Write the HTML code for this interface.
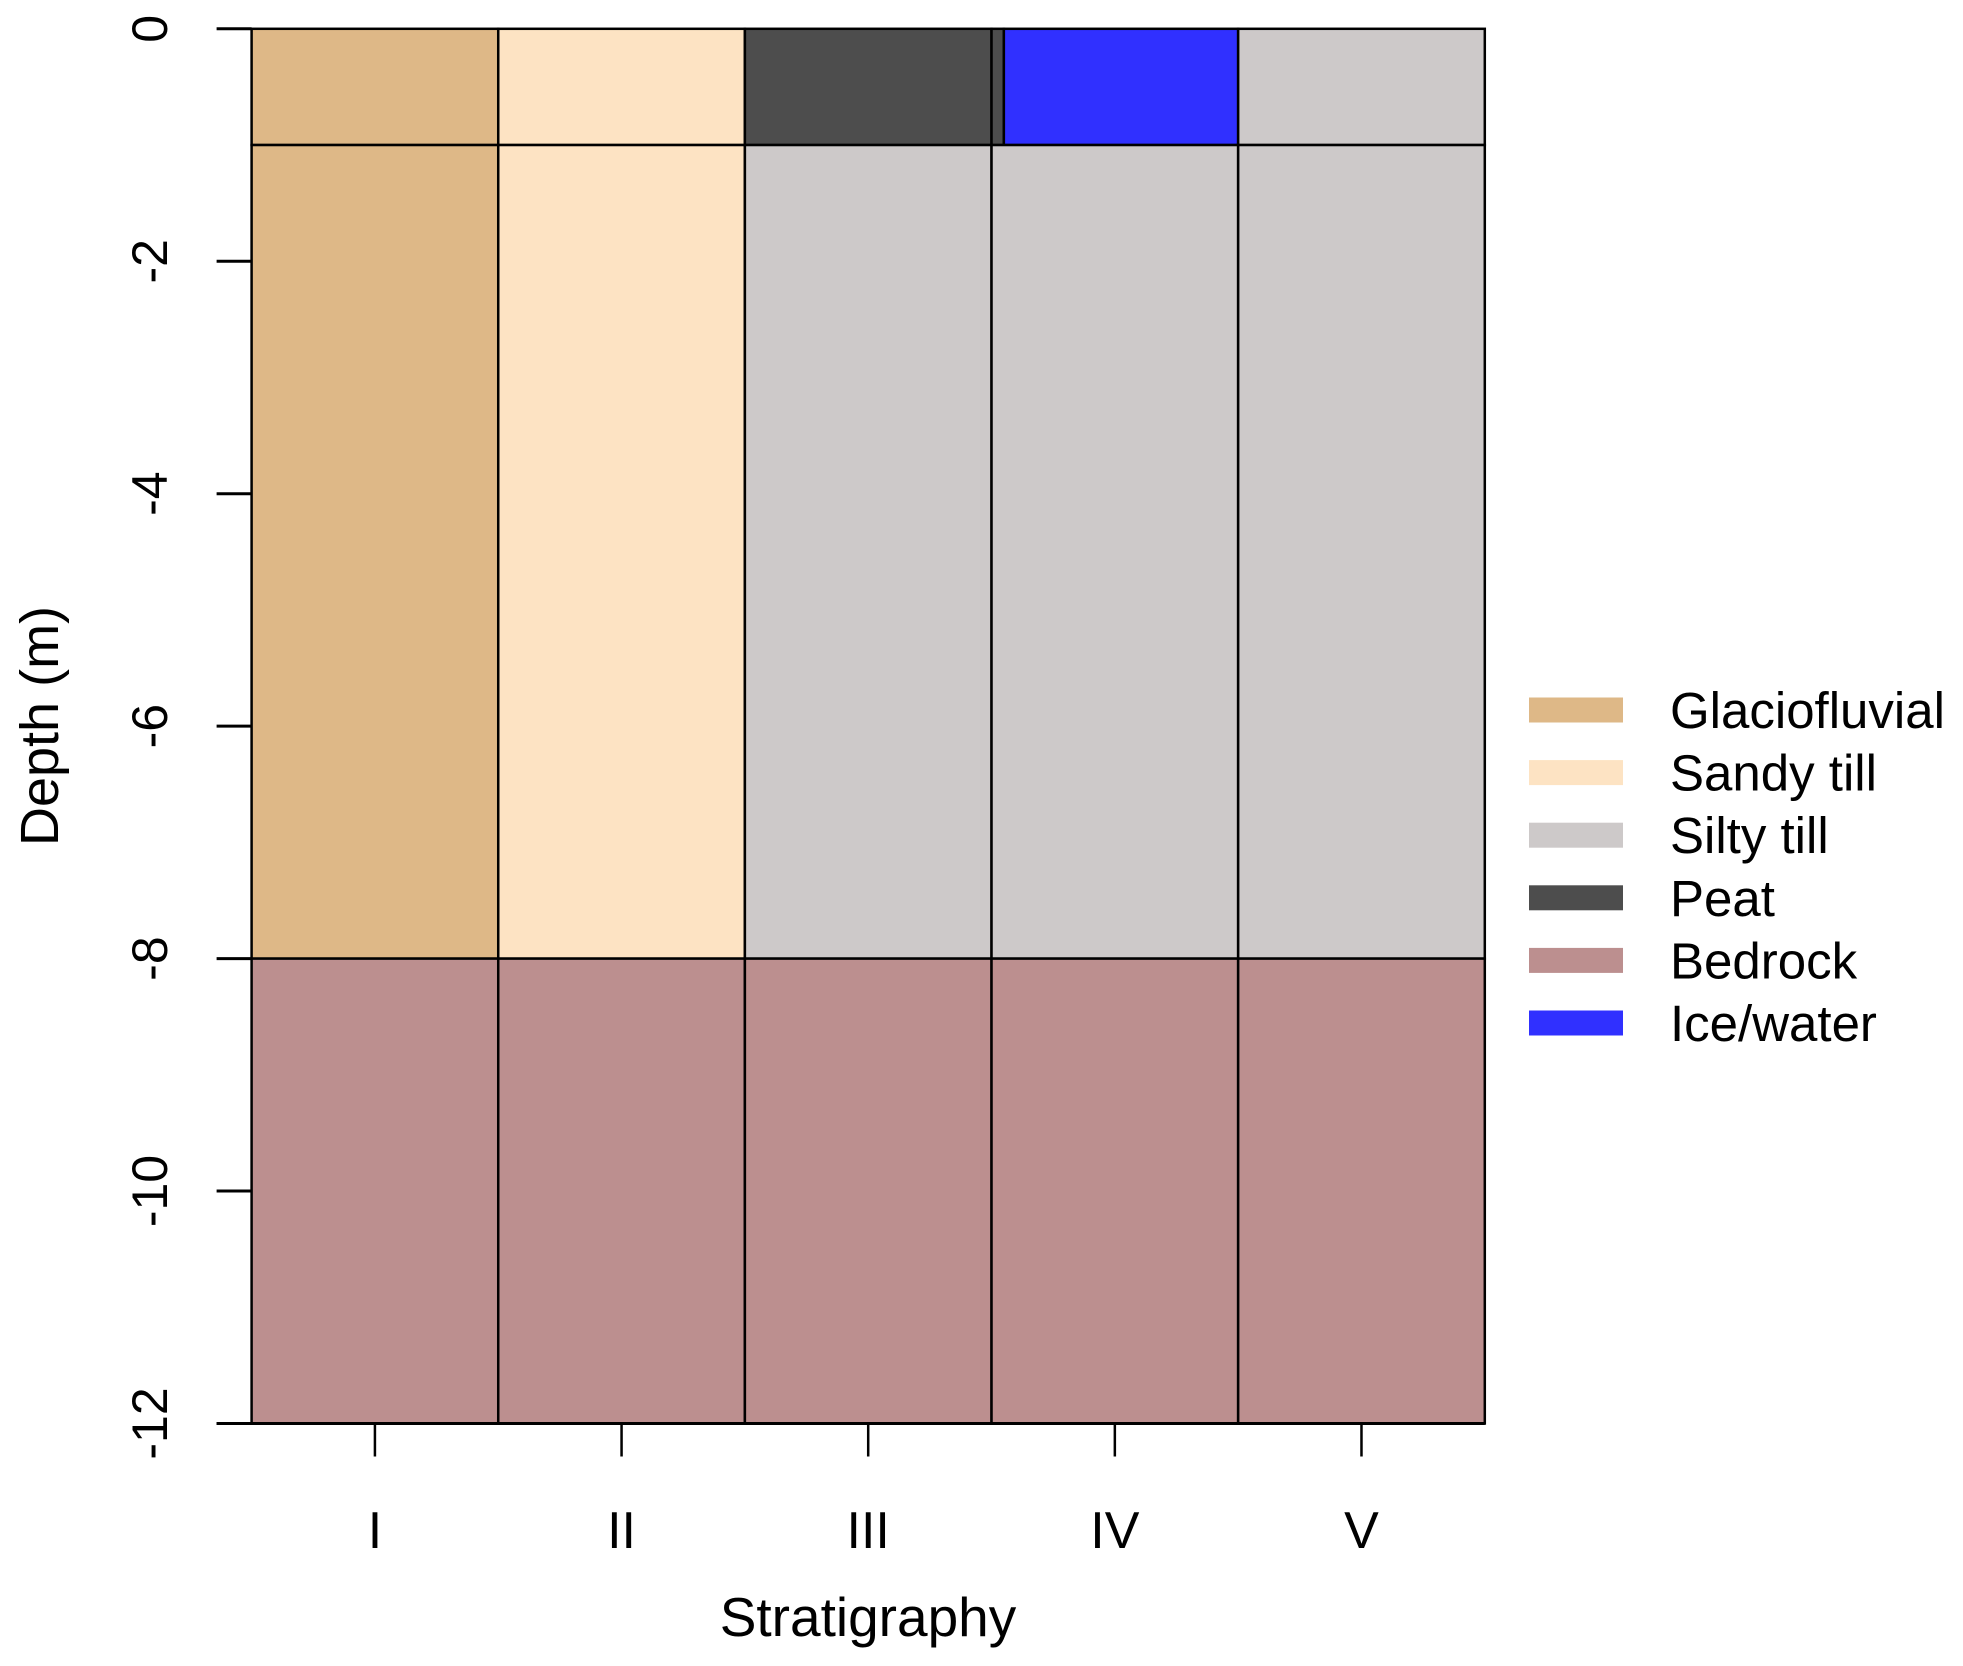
<!DOCTYPE html>
<html><head><meta charset="utf-8"><style>
html,body{margin:0;padding:0;background:#fff;}
svg{display:block;font-family:"Liberation Sans",Arial,sans-serif;}
</style></head><body>
<svg id="chart" width="1963" height="1666" viewBox="0 0 1963 1666" xmlns="http://www.w3.org/2000/svg">
<g id="layers"></g>
<g id="axes"></g>
<g id="legend"></g>
</svg>
<script>
const categories = ["I","II","III","IV","V"];
const layerNames = ["Glaciofluvial","Sandy till","Silty till","Peat","Bedrock","Ice/water"];
const layerColors = ["#DEB887","#FDE3C3","#CDC9C9","#4D4D4D","#BC8F8F","#3030FF"];
// each layer: [column index, top depth, bottom depth, material index, xStartFraction, xEndFraction]
const layerCol = [0,0,0, 1,1,1, 2,2,2, 3,3,3,3, 4,4,4];
const layerTop = [0,-1,-8, 0,-1,-8, 0,-1,-8, 0,0,-1,-8, 0,-1,-8];
const layerBot = [-1,-8,-12, -1,-8,-12, -1,-8,-12, -1,-1,-8,-12, -1,-8,-12];
const layerMat = [0,0,4, 1,1,4, 3,2,4, 3,5,2,4, 2,2,4];
const layerX0 = [0,0,0, 0,0,0, 0,0,0, 0,0.05,0,0, 0,0,0];
const layerX1 = [1,1,1, 1,1,1, 1,1,1, 0.05,1,1,1, 1,1,1];
const yTicks = [0,-2,-4,-6,-8,-10,-12];

const NS="http://www.w3.org/2000/svg";
const L=251.6, R=1484.8, T=28.8, B=1423.5;
const yMin=-12, yMax=0;
const colW=(R-L)/categories.length;
const yScale=v=>T+(yMax-v)/(yMax-yMin)*(B-T);
const xScale=i=>L+i*colW;
function mk(tag,attrs,parent){const e=document.createElementNS(NS,tag);for(const k in attrs)e.setAttribute(k,attrs[k]);parent.appendChild(e);return e;}

const gL=document.getElementById('layers');
for(let i=0;i<layerCol.length;i++){
  const x0=xScale(layerCol[i])+layerX0[i]*colW, x1=xScale(layerCol[i])+layerX1[i]*colW;
  const y0=yScale(layerTop[i]), y1=yScale(layerBot[i]);
  const r=mk('rect',{x:x0,y:y0,width:x1-x0,height:y1-y0,fill:layerColors[layerMat[i]],stroke:'#000','stroke-width':2.5},gL);
  
  
}

const gA=document.getElementById('axes');
const yAxisX=216.6;
yTicks.forEach(v=>{
  const y=yScale(v);
  const t=mk('line',{x1:yAxisX,y1:y,x2:L,y2:y,stroke:'#000','stroke-width':3},gA);
  
  
  const tx=mk('text',{x:0,y:0,transform:`translate(167,${y}) rotate(-90)`,'text-anchor':'middle','font-size':50},gA);
  tx.textContent=String(v);
  
  
});
const xa=mk('line',{x1:yAxisX,y1:B,x2:R,y2:B,stroke:'#000','stroke-width':3},gA);


categories.forEach((c,i)=>{
  const x=xScale(i)+colW/2;
  const t=mk('line',{x1:x,y1:B,x2:x,y2:B+33,stroke:'#000','stroke-width':2.5},gA);
  
  
  const tx=mk('text',{x:x,y:1548,'text-anchor':'middle','font-size':52},gA);
  tx.textContent=c;
  
  
});
const xl=mk('text',{x:868,y:1636,'text-anchor':'middle','font-size':55},gA);
xl.textContent='Stratigraphy';


const yl=mk('text',{x:0,y:0,transform:'translate(58,726) rotate(-90)','text-anchor':'middle','font-size':54},gA);
yl.textContent='Depth (m)';



const gG=document.getElementById('legend');
layerNames.forEach((n,i)=>{
  const cy=710+i*62.6;
  const g=mk('g',{},gG);
  
  
  mk('rect',{x:1529,y:cy-12.5,width:94,height:25,fill:layerColors[i]},g);
  const tx=mk('text',{x:1670,y:cy+18,'font-size':51},g);
  tx.textContent=n;
});
</script>
</body></html>
